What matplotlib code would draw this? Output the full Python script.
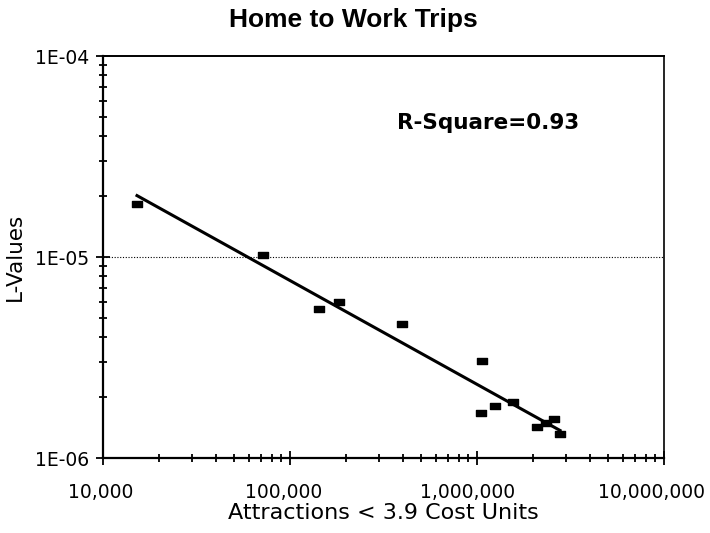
import matplotlib
matplotlib.use("Agg")
import matplotlib.pyplot as plt
import numpy as np
from matplotlib.path import Path
from matplotlib.transforms import ScaledTranslation
from matplotlib.ticker import FixedLocator, LogLocator, NullFormatter

plt.rcParams['font.family'] = ['DejaVu Sans']

# values
attractions = [15200, 71800, 143000, 183000, 397000, 1064000, 1050000,
               1250000, 1560000, 2090000, 2340000, 2580000, 2780000]
l_values = [1.84e-5, 1.02e-5, 5.5e-6, 5.97e-6, 4.65e-6, 3.04e-6, 1.675e-6,
            1.82e-6, 1.90e-6, 1.43e-6, 1.49e-6, 1.56e-6, 1.32e-6]
x_ticks = [1e4, 1e5, 1e6, 1e7]
x_labels = ['10,000', '100,000', '1,000,000', '10,000,000']
y_ticks = [1e-6, 1e-5, 1e-4]
y_labels = ['1E-06', '1E-05', '1E-04']
r_square = 0.93

fig = plt.figure(figsize=(7.1, 5.33), dpi=100)
ax = fig.add_axes([103 / 710, 1 - 458 / 533, (664 - 103) / 710, (458 - 56) / 533])

# flat rectangle marker like the original
rect = Path([(-1, -0.6), (1, -0.6), (1, 0.6), (-1, 0.6), (-1, -0.6)],
            [Path.MOVETO, Path.LINETO, Path.LINETO, Path.LINETO, Path.CLOSEPOLY])

# power trend line, fitted in log space
lx = np.log10(attractions)
ly = np.log10(l_values)
p = np.polyfit(lx, ly, 1)
xs = np.array([min(lx), max(lx)])
ax.plot(10 ** xs, 10 ** np.polyval(p, xs), color='black', lw=2.2, zorder=3)

ax.plot(attractions, l_values, linestyle='none', marker=rect, markersize=7.5,
        color='black', zorder=4)

ax.set_xscale('log')
ax.set_yscale('log')
ax.set_xlim(1e4, 1e7)
ax.set_ylim(1e-6, 1e-4)

ax.xaxis.set_major_locator(FixedLocator(x_ticks))
ax.set_xticklabels(x_labels)
ax.yaxis.set_major_locator(FixedLocator(y_ticks))
ax.set_yticklabels(y_labels)
ax.xaxis.set_minor_locator(LogLocator(base=10, subs=np.arange(2, 10)))
ax.yaxis.set_minor_locator(LogLocator(base=10, subs=np.arange(2, 10)))
ax.xaxis.set_minor_formatter(NullFormatter())
ax.yaxis.set_minor_formatter(NullFormatter())

ax.tick_params(which='major', direction='inout', length=10, width=1.3,
               labelsize=13.5)
ax.tick_params(which='minor', direction='inout', length=6, width=1.3)
ax.tick_params(axis='x', which='major', pad=13)
ax.tick_params(axis='y', which='major', pad=5)

# the original's x labels creep slightly left of their ticks
for i, lab in enumerate(ax.get_xticklabels()):
    dx = -(2.5 + 3.5 * i) / 100
    lab.set_transform(lab.get_transform() + ScaledTranslation(dx, 0, fig.dpi_scale_trans))

ax.axhline(1e-5, color='black', lw=0.8, linestyle=(0, (1, 1.5)), zorder=1)

ax.spines['left'].set_linewidth(1.6)
ax.spines['bottom'].set_linewidth(1.6)
ax.spines['right'].set_linewidth(1.2)
ax.spines['top'].set_linewidth(1.4)
ax.spines['top'].set_linestyle((0, (1, 1)))

ax.set_xlabel('Attractions < 3.9 Cost Units', fontsize=16, labelpad=1)
ax.set_ylabel('L-Values', fontsize=15.5, labelpad=7)

fig.text(353 / 710, 1 - 20 / 533, 'Home to Work Trips', fontsize=19,
         fontweight='bold', family='Liberation Sans', ha='center', va='center')

ax.text(0.524, 0.833, 'R-Square=' + str(r_square), transform=ax.transAxes,
        fontsize=15.5, fontweight='bold', ha='left', va='center')

fig.savefig('out.png', dpi=100)
